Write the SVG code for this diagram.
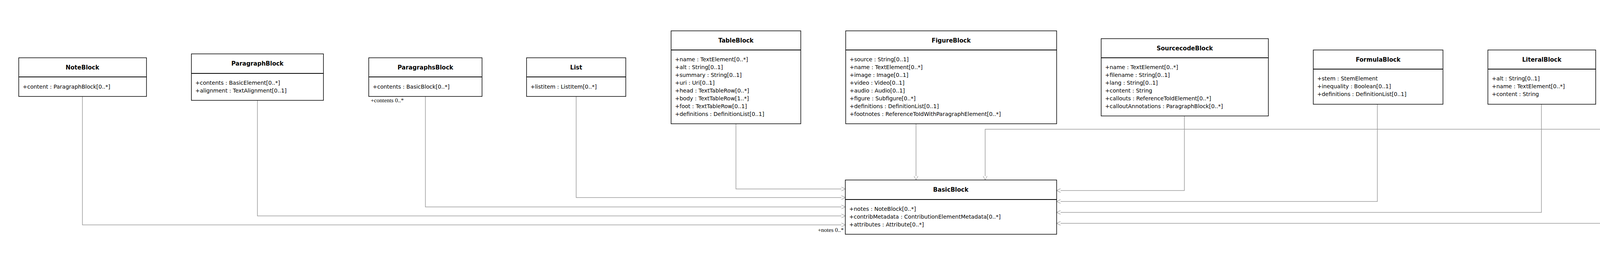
<svg xmlns="http://www.w3.org/2000/svg" width="5133" height="648" viewBox="0 0 5133 648">
<style>
.box{fill:#fff;stroke:#000;stroke-width:1.5}
.sep{stroke:#000;stroke-width:2}
.t{font-family:"DejaVu Sans",sans-serif;font-size:15px;font-weight:bold;text-anchor:middle;fill:#000}
.a{font-family:"DejaVu Sans",sans-serif;font-size:14px;fill:#000}
.l{font-family:"Liberation Serif",serif;font-size:15px;fill:#000}
.c{fill:none;stroke:#9a9a9a;stroke-width:1.5}
</style>
<defs>
<marker id="ar" markerUnits="userSpaceOnUse" markerWidth="12" markerHeight="12" refX="10" refY="5" orient="auto" viewBox="0 0 12 10">
<path d="M0,0 L10,5 L0,10" fill="#fff" stroke="#9a9a9a" stroke-width="1.2"/>
</marker>
</defs>
<g id="connectors">
<path class="c" d="M211,247 V576 H2164" marker-end="url(#ar)"/>
<path class="c" d="M659,257 V553 H2164" marker-end="url(#ar)"/>
<path class="c" d="M1089,247 V530 H2164" marker-end="url(#ar)"/>
<path class="c" d="M1475,247 V506 H2164" marker-end="url(#ar)"/>
<path class="c" d="M1884,317 V484 H2164" marker-end="url(#ar)"/>
<path class="c" d="M2345,317 V461" marker-end="url(#ar)"/>
<path class="c" d="M4594,331 H2522 V461" marker-end="url(#ar)"/>
<path class="c" d="M3032,297 V488 H2705" marker-end="url(#ar)"/>
<path class="c" d="M3526,267 V516 H2705" marker-end="url(#ar)"/>
<path class="c" d="M3946,267 V544 H2705" marker-end="url(#ar)"/>
<path class="c" d="M4339,257 V572 H2705" marker-end="url(#ar)"/>
<text class="l" x="949" y="262">+contents 0..*</text>
<text class="l" x="4213" y="272">+content 0..*</text>
<text class="l" x="4590" y="344" text-anchor="end">+description 0..*</text>
<text class="l" x="2160" y="594" text-anchor="end">+notes 0..*</text>
</g>
<g id="NoteBlock">
<rect class="box" x="48" y="148" width="327" height="99"/><line class="sep" x1="48" y1="197" x2="375" y2="197"/>
<text class="t" x="211" y="178">NoteBlock</text>
<text class="a" x="58" y="227">+content : ParagraphBlock[0..*]</text>
</g>
<g id="ParagraphBlock">
<rect class="box" x="490" y="138" width="338" height="119"/><line class="sep" x1="490" y1="188" x2="828" y2="188"/>
<text class="t" x="659" y="168">ParagraphBlock</text>
<text class="a" x="500" y="217">+contents : BasicElement[0..*]</text>
<text class="a" x="500" y="237">+alignment : TextAlignment[0..1]</text>
</g>
<g id="ParagraphsBlock">
<rect class="box" x="944" y="148" width="290" height="99"/><line class="sep" x1="944" y1="197" x2="1234" y2="197"/>
<text class="t" x="1089" y="178">ParagraphsBlock</text>
<text class="a" x="954" y="227">+contents : BasicBlock[0..*]</text>
</g>
<g id="List">
<rect class="box" x="1348" y="148" width="254" height="99"/><line class="sep" x1="1348" y1="197" x2="1602" y2="197"/>
<text class="t" x="1475" y="178">List</text>
<text class="a" x="1358" y="227">+listitem : ListItem[0..*]</text>
</g>
<g id="TableBlock">
<rect class="box" x="1718" y="79" width="332" height="238"/><line class="sep" x1="1718" y1="128" x2="2050" y2="128"/>
<text class="t" x="1884" y="109">TableBlock</text>
<text class="a" x="1728" y="157">+name : TextElement[0..*]</text>
<text class="a" x="1728" y="177">+alt : String[0..1]</text>
<text class="a" x="1728" y="197">+summary : String[0..1]</text>
<text class="a" x="1728" y="217">+uri : Uri[0..1]</text>
<text class="a" x="1728" y="237">+head : TextTableRow[0..*]</text>
<text class="a" x="1728" y="257">+body : TextTableRow[1..*]</text>
<text class="a" x="1728" y="277">+foot : TextTableRow[0..1]</text>
<text class="a" x="1728" y="297">+definitions : DefinitionList[0..1]</text>
</g>
<g id="FigureBlock">
<rect class="box" x="2165" y="79" width="540" height="238"/><line class="sep" x1="2165" y1="128" x2="2705" y2="128"/>
<text class="t" x="2435" y="109">FigureBlock</text>
<text class="a" x="2175" y="157">+source : String[0..1]</text>
<text class="a" x="2175" y="177">+name : TextElement[0..*]</text>
<text class="a" x="2175" y="197">+image : Image[0..1]</text>
<text class="a" x="2175" y="217">+video : Video[0..1]</text>
<text class="a" x="2175" y="237">+audio : Audio[0..1]</text>
<text class="a" x="2175" y="257">+figure : Subfigure[0..*]</text>
<text class="a" x="2175" y="277">+definitions : DefinitionList[0..1]</text>
<text class="a" x="2175" y="297">+footnotes : ReferenceToIdWithParagraphElement[0..*]</text>
</g>
<g id="SourcecodeBlock">
<rect class="box" x="2819" y="99" width="428" height="198"/><line class="sep" x1="2819" y1="148" x2="3247" y2="148"/>
<text class="t" x="3033" y="129">SourcecodeBlock</text>
<text class="a" x="2829" y="177">+name : TextElement[0..*]</text>
<text class="a" x="2829" y="197">+filename : String[0..1]</text>
<text class="a" x="2829" y="217">+lang : String[0..1]</text>
<text class="a" x="2829" y="237">+content : String</text>
<text class="a" x="2829" y="257">+callouts : ReferenceToIdElement[0..*]</text>
<text class="a" x="2829" y="277">+calloutAnnotations : ParagraphBlock[0..*]</text>
</g>
<g id="FormulaBlock">
<rect class="box" x="3362" y="128" width="332" height="139"/><line class="sep" x1="3362" y1="177" x2="3694" y2="177"/>
<text class="t" x="3528" y="158">FormulaBlock</text>
<text class="a" x="3372" y="206">+stem : StemElement</text>
<text class="a" x="3372" y="226">+inequality : Boolean[0..1]</text>
<text class="a" x="3372" y="246">+definitions : DefinitionList[0..1]</text>
</g>
<g id="LiteralBlock">
<rect class="box" x="3809" y="128" width="276" height="139"/><line class="sep" x1="3809" y1="177" x2="4085" y2="177"/>
<text class="t" x="3947" y="158">LiteralBlock</text>
<text class="a" x="3819" y="206">+alt : String[0..1]</text>
<text class="a" x="3819" y="226">+name : TextElement[0..*]</text>
<text class="a" x="3819" y="246">+content : String</text>
</g>
<g id="ExampleBlock">
<rect class="box" x="4200" y="138" width="280" height="119"/><line class="sep" x1="4200" y1="188" x2="4480" y2="188"/>
<text class="t" x="4340" y="168">ExampleBlock</text>
<text class="a" x="4210" y="217">+name : TextElement[0..*]</text>
<text class="a" x="4210" y="237">+content : BasicBlock[0..*]</text>
</g>
<g id="AmendBlock">
<rect class="box" x="4594" y="48" width="491" height="298"/><line class="sep" x1="4594" y1="97" x2="5085" y2="97"/>
<text class="t" x="4840" y="78">AmendBlock</text>
<text class="a" x="4604" y="125">+change : ChangeType</text>
<text class="a" x="4604" y="145">+bibLocality : «Bibliography»BibItemLocality[0..*]</text>
<text class="a" x="4604" y="165">+localityStack : «Bibliography»LocalityStack[0..*]</text>
<text class="a" x="4604" y="185">+path : String[0..1]</text>
<text class="a" x="4604" y="205">+position : AmendPosition[0..1]</text>
<text class="a" x="4604" y="225">+pathEnd : String[0..1]</text>
<text class="a" x="4604" y="245">+title : String[0..1]</text>
<text class="a" x="4604" y="265">+description : BasicBlock[0..*]</text>
<text class="a" x="4604" y="285">+newContent : NewContentBlock[0..1]</text>
<text class="a" x="4604" y="305">+classification : Attribute[0..*]</text>
<text class="a" x="4604" y="325">+contributor : «Bibliography»Contributor[0..*]</text>
</g>
<g id="BasicBlock">
<rect class="box" x="2164" y="461" width="541" height="139"/><line class="sep" x1="2164" y1="511" x2="2705" y2="511"/>
<text class="t" x="2434" y="491">BasicBlock</text>
<text class="a" x="2174" y="540">+notes : NoteBlock[0..*]</text>
<text class="a" x="2174" y="560">+contribMetadata : ContributionElementMetadata[0..*]</text>
<text class="a" x="2174" y="580">+attributes : Attribute[0..*]</text>
</g>
</svg>
